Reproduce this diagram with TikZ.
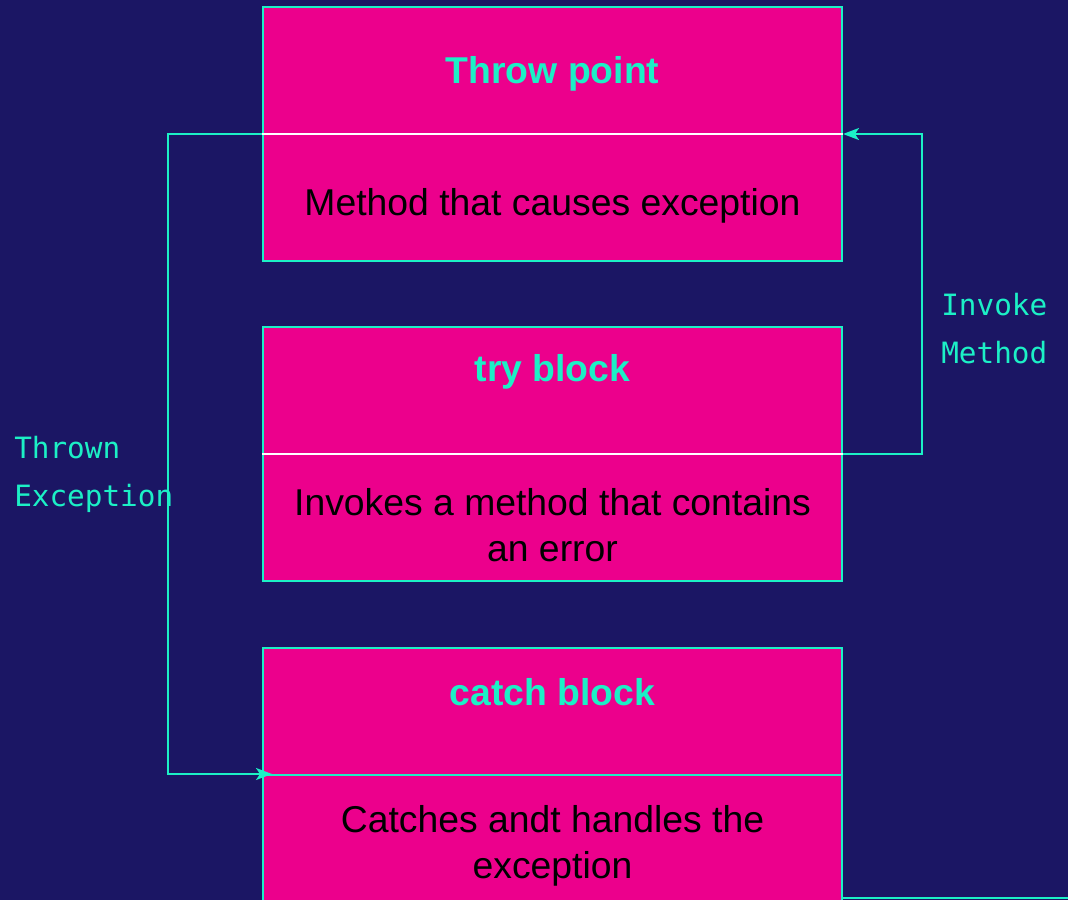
\documentclass[tikz,border=0pt]{standalone}
\usepackage{fontspec}
\setmainfont{Liberation Sans}
\newfontfamily\labelfont{DejaVu Sans Mono}
\usetikzlibrary{arrows.meta}
\definecolor{bgnavy}{HTML}{1B1664}
\definecolor{boxpink}{HTML}{EC008C}
\definecolor{aqua}{HTML}{1CF0C6}
\tikzset{
  panel/.style={draw=aqua, line width=1.5pt, fill=boxpink, inner sep=0pt,
    minimum width=579*0.75pt, minimum height=254*0.75pt},
  divider/.style={draw=white, line width=1.5pt},
  conn/.style={draw=aqua, line width=1.5pt},
  arrowtip/.style={-{Stealth[length=12pt,width=9pt,inset=3pt]}},
  heading/.style={text=aqua, font=\fontsize{28}{34}\selectfont\bfseries},
  body/.style={text=black, align=center, font=\fontsize{28}{34}\selectfont},
  sidelabel/.style={text=aqua, align=left, inner sep=0pt, anchor=north west,
    font=\labelfont\fontsize{22}{36}\selectfont}
}
\begin{document}
\begin{tikzpicture}[x=0.75pt, y=-0.75pt]
  % background and page frame
  \fill[bgnavy] (0,0) rectangle (1068,900);
  \useasboundingbox (0,0) rectangle (1068,900);

  % the three blocks, each split at its middle
  \node[panel] (throw) at (552.5,134) {};
  \node[panel] (try)   at (552.5,454) {};
  \node[panel] (catch) at (552.5,774.5) {};

  \draw[divider] (throw.west) -- (throw.east);
  \draw[divider] (try.west) -- (try.east);

  % headings
  \node[heading] (throwtitle) at (552.5,74)  {Throw point};
  \node[heading] (trytitle)   at (552.5,372) {try block};
  \node[heading] (catchtitle) at (552.5,692) {catch block};

  % descriptions
  \node[body] (throwtext) at (552.5,206) {Method that causes exception};
  \node[body] (trytext)   at (552.5,525) {Invokes a method that contains\\an error};
  \node[body] (catchtext) at (552.5,846) {Catches andt handles the\\exception};

  % invoke: from the try block up to the throw point
  \coordinate (invokebend) at (922,454);
  \draw[conn, arrowtip] (try.east) -- (invokebend) |- (throw.east);
  \node[sidelabel] (invokelabel) at (941,293) {Invoke\\Method};

  % thrown exception: from the throw point down to the catch block
  \coordinate (thrownbend) at (168,134);
  \coordinate (catchentry) at (272,774);
  \draw[conn, arrowtip] (throw.west) -- (thrownbend) |- (catchentry);
  \draw[conn] (catch.west) -- (catch.east);
  \node[sidelabel] (thrownlabel) at (14,436) {Thrown\\Exception};

  % rule along the lower edge
  \coordinate (rulestart) at (842,898);
  \coordinate (ruleend) at (1068,898);
  \draw[conn] (rulestart) -- (ruleend);
\end{tikzpicture}
\end{document}
